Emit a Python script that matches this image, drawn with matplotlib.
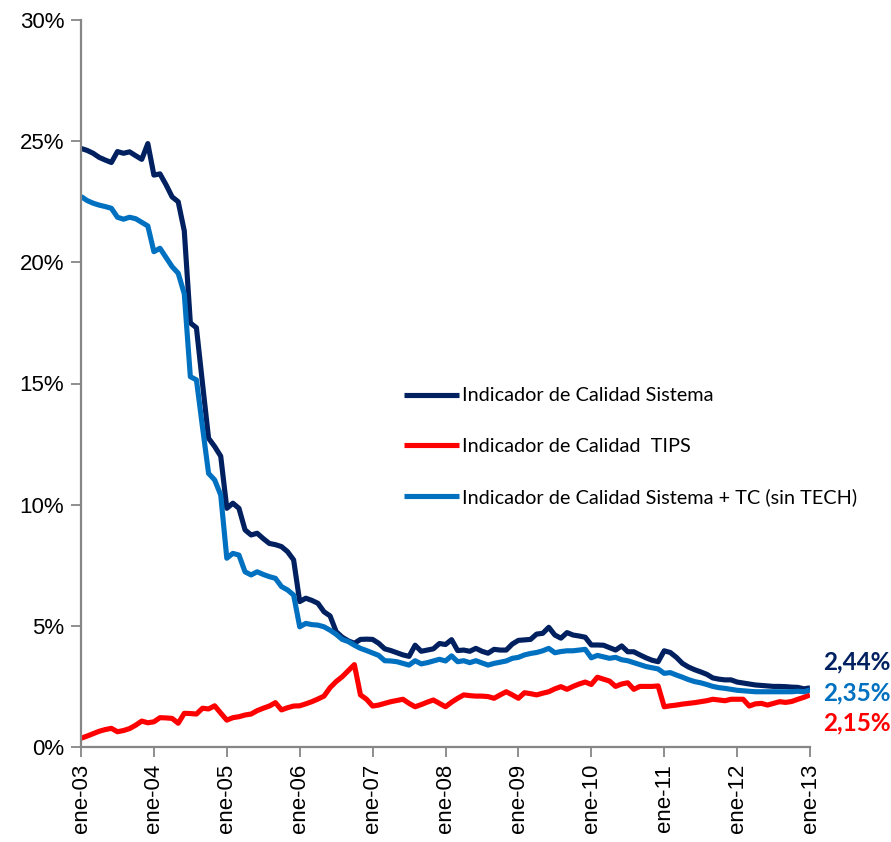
import matplotlib
matplotlib.use("Agg")
import matplotlib.pyplot as plt
from matplotlib.ticker import FuncFormatter

# monthly values, ene-03 .. ene-13 (in %)
sistema = [
    24.7, 24.62, 24.5, 24.33, 24.22, 24.12, 24.57, 24.5, 24.56, 24.4, 24.25, 24.9,
    23.6, 23.65, 23.2, 22.7, 22.5, 21.3, 17.5, 17.3, 15.0, 12.74, 12.4, 12.0,
    9.85, 10.06, 9.85, 8.96, 8.75, 8.82, 8.6, 8.4, 8.35, 8.27, 8.06, 7.72,
    6.0, 6.14, 6.05, 5.93, 5.58, 5.41, 4.76, 4.53, 4.38, 4.28, 4.44, 4.45,
    4.44, 4.28, 4.05, 3.98, 3.89, 3.8, 3.74, 4.2, 3.95, 4.0, 4.05, 4.27,
    4.23, 4.43, 3.98, 4.0, 3.95, 4.07, 3.95, 3.87, 4.03, 4.0, 4.0, 4.25,
    4.4, 4.42, 4.44, 4.66, 4.69, 4.94, 4.62, 4.49, 4.72, 4.62, 4.58, 4.53,
    4.21, 4.21, 4.2, 4.1, 4.0, 4.17, 3.93, 3.93, 3.8, 3.68, 3.58, 3.52,
    3.97, 3.9, 3.7, 3.45, 3.3, 3.19, 3.1, 3.0, 2.85, 2.8, 2.77, 2.77,
    2.68, 2.64, 2.6, 2.56, 2.54, 2.52, 2.5, 2.5, 2.49, 2.47, 2.46, 2.4,
    2.44,
]

tips = [
    0.36, 0.45, 0.55, 0.65, 0.72, 0.77, 0.63, 0.68, 0.76, 0.9, 1.07, 1.0,
    1.04, 1.21, 1.2, 1.18, 0.98, 1.39, 1.38, 1.36, 1.6, 1.57, 1.7, 1.4,
    1.11, 1.21, 1.25, 1.32, 1.36, 1.5, 1.6, 1.69, 1.83, 1.53, 1.62, 1.69,
    1.7, 1.78, 1.87, 1.98, 2.1, 2.45, 2.7, 2.9, 3.15, 3.4, 2.15, 1.97,
    1.69, 1.73, 1.8, 1.87, 1.92, 1.97, 1.8, 1.66, 1.75, 1.85, 1.94, 1.8,
    1.66, 1.85, 2.01, 2.15, 2.12, 2.1, 2.1, 2.08, 2.01, 2.15, 2.28, 2.15,
    2.01, 2.24, 2.2, 2.15, 2.22, 2.28, 2.4, 2.49, 2.38, 2.5, 2.6, 2.68,
    2.58, 2.88, 2.8, 2.72, 2.5, 2.6, 2.65, 2.38, 2.5, 2.5, 2.5, 2.52,
    1.66, 1.7, 1.73, 1.77, 1.8, 1.83, 1.87, 1.91, 1.97, 1.94, 1.91, 1.97,
    1.97, 1.97, 1.69, 1.78, 1.8, 1.73, 1.8, 1.87, 1.84, 1.88, 1.97, 2.05,
    2.15,
]

sistema_tc = [
    22.72, 22.55, 22.44, 22.36, 22.3, 22.23, 21.86, 21.78, 21.86, 21.8, 21.65, 21.5,
    20.44, 20.58, 20.2, 19.82, 19.55, 18.7, 15.28, 15.15, 13.2, 11.29, 11.02, 10.4,
    7.79, 7.99, 7.92, 7.23, 7.1, 7.23, 7.12, 7.03, 6.96, 6.62, 6.48, 6.27,
    4.96, 5.1, 5.05, 5.03, 4.96, 4.82, 4.65, 4.44, 4.35, 4.2, 4.07, 3.98,
    3.88, 3.78, 3.56, 3.55, 3.52, 3.45, 3.38, 3.56, 3.43, 3.48, 3.55, 3.62,
    3.55, 3.76, 3.52, 3.56, 3.48, 3.56, 3.47, 3.38, 3.45, 3.5, 3.55, 3.66,
    3.7, 3.8, 3.86, 3.9, 3.97, 4.07, 3.89, 3.94, 3.97, 3.97, 4.0, 4.03,
    3.68, 3.78, 3.72, 3.66, 3.7, 3.6, 3.56, 3.48, 3.4, 3.32, 3.27, 3.22,
    3.04, 3.07, 2.97, 2.88, 2.78, 2.7, 2.65, 2.58, 2.5, 2.45, 2.42, 2.38,
    2.34, 2.32, 2.3, 2.28, 2.28, 2.28, 2.28, 2.28, 2.28, 2.28, 2.3, 2.28,
    2.35,
]

tick_labels = ["ene-03", "ene-04", "ene-05", "ene-06", "ene-07", "ene-08",
               "ene-09", "ene-10", "ene-11", "ene-12", "ene-13"]
end_labels = ["2,44%", "2,35%", "2,15%"]

c_sis = "#002060"
c_tips = "#FF0000"
c_tc = "#0070C0"
gray = "#868686"

plt.rcParams["font.family"] = ["Liberation Sans", "DejaVu Sans"]

fig = plt.figure(figsize=(8.91, 8.42), dpi=100)
ax = fig.add_axes([81 / 891, 1 - 747 / 842, 729 / 891, 727 / 842])

months = list(range(len(sistema)))
kw = dict(lw=3.7, solid_joinstyle="round", solid_capstyle="butt")
ax.plot(months, sistema, color=c_sis, label="Indicador de Calidad Sistema", **kw)
ax.plot(months, tips, color=c_tips, label="Indicador de Calidad  TIPS", **kw)
ax.plot(months, sistema_tc, color=c_tc,
        label="Indicador de Calidad Sistema + TC (sin TECH)", **kw)

ax.set_xlim(0, 120)
ax.set_ylim(0, 30)
ax.set_xticks(range(0, 121, 12))
ax.set_xticklabels(tick_labels, rotation=90, fontsize=16)
ax.set_yticks(range(0, 31, 5))
ax.yaxis.set_major_formatter(FuncFormatter(lambda v, p: f"{v:.0f}%"))
ax.tick_params(axis="y", labelsize=16, length=7, width=1.3, color=gray, pad=5)
ax.tick_params(axis="x", length=7, width=1.3, color=gray, pad=5)

for s in ["top", "right"]:
    ax.spines[s].set_visible(False)
for s in ["left", "bottom"]:
    ax.spines[s].set_color(gray)
    ax.spines[s].set_linewidth(1.6)

leg = ax.legend(loc="upper left", bbox_to_anchor=(0.443, 0.4945), frameon=False,
                handlelength=2.75, handletextpad=0.15, labelspacing=1.67,
                borderpad=0, borderaxespad=0,
                prop={"family": "Lato", "size": 14.3})

# end-of-series labels, placed beside the last point
last = len(sistema) - 1
end_vals = [sistema[last] + 1.07, sistema_tc[last] - 0.12, tips[last] - 1.16]
for txt, yv, col in zip(end_labels, end_vals, [c_sis, c_tc, c_tips]):
    ax.annotate(txt, xy=(last, yv), xytext=(9.5, 0), textcoords="offset points",
                ha="left", va="center", color=col, fontsize=17.5,
                fontweight="bold", family="Lato", annotation_clip=False)

fig.savefig("out.png", dpi=100)
